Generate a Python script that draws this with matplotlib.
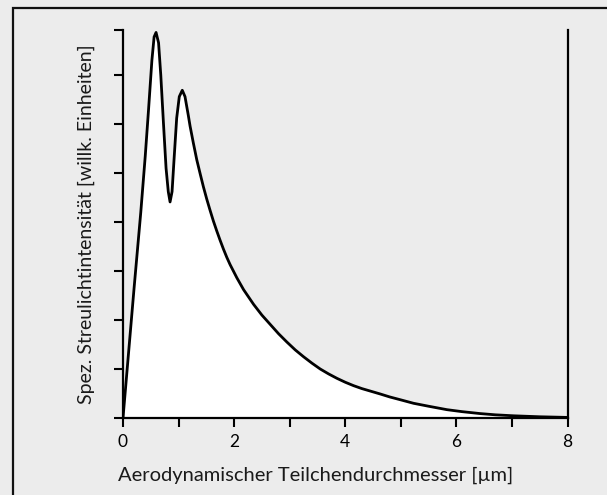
"""Spezifische Streulichtintensität über dem aerodynamischen Teilchendurchmesser."""
import matplotlib
matplotlib.use("Agg")
import matplotlib.pyplot as plt
from matplotlib.patches import Rectangle

# Curve (diameter in µm, intensity in arbitrary units)
diameter = [0, 0.1, 0.2, 0.32, 0.40, 0.46, 0.52, 0.56, 0.595, 0.64, 0.68, 0.73,
            0.775, 0.815, 0.847, 0.883, 0.92, 0.966, 1.013, 1.067, 1.116, 1.175,
            1.207, 1.265, 1.328, 1.39, 1.447, 1.507, 1.567, 1.627, 1.687, 1.747,
            1.807, 1.868, 1.928, 2.05, 2.17, 2.35, 2.5, 2.65, 2.8, 2.95, 3.1, 3.25,
            3.4, 3.55, 3.7, 3.85, 4.0, 4.15, 4.3, 4.45, 4.63, 4.8, 5.0, 5.23, 5.5,
            5.83, 6.1, 6.43, 6.7, 7.03, 7.5, 8.0]
intensity = [0, 1.33, 2.66, 4.2, 5.34, 6.3, 7.3, 7.78, 7.87, 7.66, 7.0, 5.98,
             5.10, 4.62, 4.41, 4.62, 5.30, 6.12, 6.56, 6.69, 6.56, 6.18,
             5.96, 5.62, 5.27, 4.98, 4.72, 4.47, 4.24, 4.02, 3.82, 3.63,
             3.45, 3.28, 3.13, 2.86, 2.62, 2.32, 2.10, 1.91, 1.72, 1.55, 1.39, 1.25,
             1.12, 1.00, 0.90, 0.81, 0.73, 0.66, 0.60, 0.55, 0.49, 0.43, 0.37, 0.30, 0.24,
             0.17, 0.13, 0.09, 0.065, 0.045, 0.025, 0.012]

x_ticks = [0, 1, 2, 3, 4, 5, 6, 7, 8]
x_labels = ["0", "", "2", "", "4", "", "6", "", "8"]
y_ticks = [0, 1, 2, 3, 4, 5, 6, 7, 7.92]

BG = "#ececec"
plt.rcParams["font.family"] = ["Lato", "DejaVu Sans"]

fig = plt.figure(figsize=(6.07, 4.95), dpi=100, facecolor=BG)
# outer frame (open to the right and bottom, as in the source)
fig.patches.append(Rectangle((13 / 607, -0.05), 1.2, 1 - 8 / 495 + 0.05,
                             transform=fig.transFigure, fill=False,
                             edgecolor="#111111", linewidth=1.6, clip_on=False))

ax = fig.add_axes([123 / 607, 1 - 418 / 495, 444.5 / 607, 388 / 495])
ax.set_facecolor(BG)
ax.fill_between(diameter, intensity, 0, color="white", zorder=1)
ax.plot(diameter, intensity, color="black", linewidth=2.0, zorder=3,
        solid_joinstyle="round", solid_capstyle="round")

ax.set_xlim(0, 8)
ax.set_ylim(0, 7.92)
ax.set_xticks(x_ticks)
ax.set_xticklabels(x_labels)
ax.set_yticks(y_ticks)
ax.set_yticklabels([])

ax.spines["top"].set_visible(False)
for s in ("left", "bottom", "right"):
    ax.spines[s].set_linewidth(1.6)
    ax.spines[s].set_color("black")
ax.tick_params(axis="both", direction="out", length=6.5, width=1.5, colors="black",
               labelsize=12.5, pad=5)
ax.tick_params(axis="y", right=False)

# x label sits centred on the outer frame rather than on the axes
ax.set_xlabel("Aerodynamischer Teilchendurchmesser [µm]", fontsize=14.5, labelpad=12,
              color="#1a1a1a", x=(316 - 123) / 444.5)
ax.set_ylabel("Spez. Streulichtintensität [willk. Einheiten]", fontsize=14, labelpad=9,
              color="#1a1a1a")

fig.savefig("out.png", dpi=100, facecolor=BG)
